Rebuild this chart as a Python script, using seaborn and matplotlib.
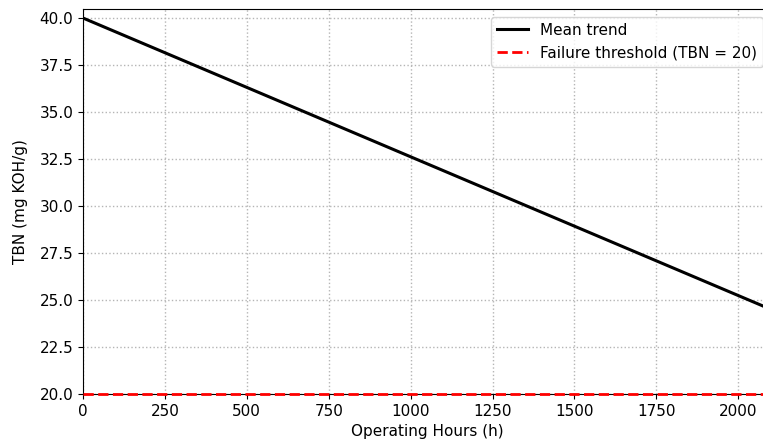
import matplotlib
matplotlib.use("Agg")
import matplotlib.pyplot as plt
import seaborn as sns
import pandas as pd

hours = [0, 2100]
tbn_mean = [40.0, 24.5]
threshold = 20.0
threshold_hours = [0, 2100]

df = pd.DataFrame({"hours": hours, "tbn": tbn_mean})
df_thr = pd.DataFrame({"hours": threshold_hours, "tbn": [threshold, threshold]})

plt.rcParams["font.family"] = ["DejaVu Sans"]
plt.rcParams["font.size"] = 11
fig = plt.figure(figsize=(7.63, 4.44), dpi=100)
ax = fig.add_axes([83 / 763, 50 / 444, 688 / 763, 385 / 444])

sns.lineplot(data=df, x="hours", y="tbn", ax=ax, color="black", linewidth=2.2, label="Mean trend")
sns.lineplot(data=df_thr, x="hours", y="tbn", ax=ax, color="red", linestyle="--", linewidth=2.0,
             label="Failure threshold (TBN = 20)", zorder=5, clip_on=False)

ax.set_xlim(0, 2100)
ax.set_ylim(20, 40.48)
ax.set_xticks([0, 250, 500, 750, 1000, 1250, 1500, 1750, 2000])
ax.set_yticks([20.0, 22.5, 25.0, 27.5, 30.0, 32.5, 35.0, 37.5, 40.0])
ax.set_yticklabels(["20.0", "22.5", "25.0", "27.5", "30.0", "32.5", "35.0", "37.5", "40.0"])
ax.grid(True, linestyle=":", color="#b5b5b5", linewidth=1.0)
ax.set_xlabel("Operating Hours (h)", fontsize=11)
ax.set_ylabel("TBN (mg KOH/g)", fontsize=11, labelpad=8)
ax.tick_params(labelsize=11)
ax.legend(loc="upper right", fontsize=11)

fig.savefig("out.png", dpi=100)
